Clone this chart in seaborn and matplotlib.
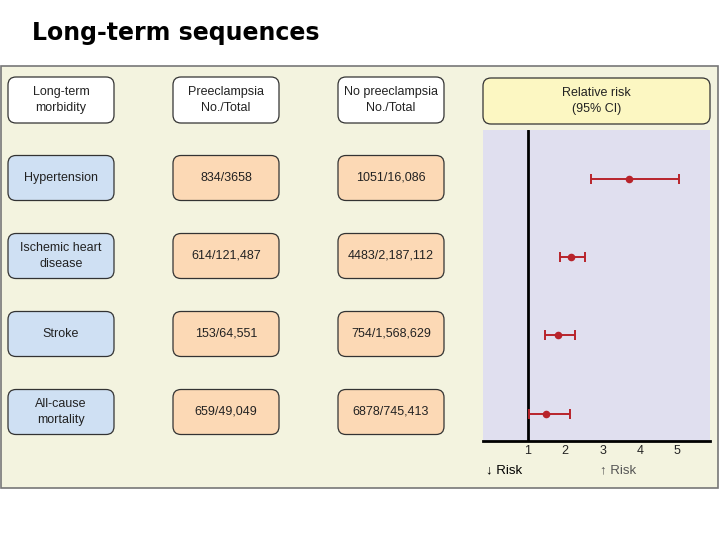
import numpy as np
import pandas as pd
import matplotlib
matplotlib.use("Agg")
import matplotlib.pyplot as plt
import seaborn as sns
from matplotlib.patches import FancyBboxPatch, Rectangle

# data
headers = ["Long-term\nmorbidity", "Preeclampsia\nNo./Total", "No preeclampsia\nNo./Total"]
outcomes = ["Hypertension", "Ischemic heart\ndisease", "Stroke", "All-cause\nmortality"]
preeclampsia = ["834/3658", "614/121,487", "153/64,551", "659/49,049"]
no_preeclampsia = ["1051/16,086", "4483/2,187,112", "754/1,568,629", "6878/745,413"]
rr = [3.70, 2.16, 1.81, 1.49]
ci_low = [2.70, 1.86, 1.45, 1.04]
ci_high = [5.05, 2.52, 2.27, 2.14]
x_ticks = [1, 2, 3, 4, 5]

df = pd.DataFrame({"outcome": outcomes, "row": range(len(outcomes)),
                   "rr": rr, "lo": ci_low, "hi": ci_high})

sns.set_style("white")
plt.rcParams["font.family"] = ["Liberation Sans", "DejaVu Sans"]

CREAM = "#f3f3df"
BLUE = "#cfe0f3"
ORANGE = "#fcd9b5"
YELLOW = "#fcf7c2"
LAVENDER = "#e0dfef"
RED = "#b8232b"

fig = plt.figure(figsize=(7.2, 5.4), dpi=100)

# background layer in pixel coordinates
bg = fig.add_axes([0, 0, 1, 1], zorder=0)
bg.set_xlim(0, 720)
bg.set_ylim(540, 0)
bg.axis("off")

bg.text(32, 40, "Long-term sequences", fontsize=17, fontweight="bold",
        va="baseline", ha="left", color="black", family=["DejaVu Sans"])
bg.add_patch(Rectangle((1, 66), 717, 422, facecolor=CREAM, edgecolor="#777777", lw=1.2))


def box(cx, cy, w, h, fc, text, r=8):
    p = FancyBboxPatch((cx - w / 2 + r, cy - h / 2 + r), w - 2 * r, h - 2 * r,
                       boxstyle=f"round,pad={r}", facecolor=fc,
                       edgecolor="#333333", lw=0.9)
    bg.add_patch(p)
    bg.text(cx, cy, text, ha="center", va="center", fontsize=9,
            color="#222222", linespacing=1.35)


col_x = [61, 226, 391]
col_w = 106
for cx, h in zip(col_x, headers):
    box(cx, 100, col_w, 46, "white", h)
box(596.5, 101, 227, 46, YELLOW, "Relative risk\n(95% CI)")

for i in range(len(outcomes)):
    cy = 178 + 78 * i
    box(col_x[0], cy, col_w, 45, BLUE, outcomes[i])
    box(col_x[1], cy, col_w, 45, ORANGE, preeclampsia[i])
    box(col_x[2], cy, col_w, 45, ORANGE, no_preeclampsia[i])

# forest plot
ax = fig.add_axes([483 / 720, (540 - 440.7) / 540, 227 / 720, (440.7 - 130) / 540], zorder=1)
ax.set_facecolor(LAVENDER)
ax.axvline(1, color="black", lw=2, zorder=1)
ax.errorbar(df["rr"], df["row"], xerr=[df["rr"] - df["lo"], df["hi"] - df["rr"]],
            fmt="none", ecolor=RED, elinewidth=1.4, capsize=3.8, capthick=1.4, zorder=2)
sns.scatterplot(data=df, x="rr", y="row", ax=ax, color=RED, s=30,
                edgecolor=RED, linewidth=0, zorder=3, legend=False)
ax.set_xlim(-0.195, 5.874)
ax.set_ylim(3.345, -0.627)
ax.set_yticks([])
ax.set_xticks(x_ticks)
ax.tick_params(axis="x", direction="in", length=3, width=0.7, color="#888888",
               labelsize=9, pad=3, labelcolor="#222222")
ax.set_xlabel("")
ax.set_ylabel("")
for s in ["top", "right", "left"]:
    ax.spines[s].set_visible(False)
ax.spines["bottom"].set_color("black")
ax.spines["bottom"].set_linewidth(2)

bg.text(486, 470, "\u2193 Risk", fontsize=9.5, ha="left", va="center", color="black",
        family=["Liberation Sans", "DejaVu Sans"])
bg.text(600, 470, "\u2191 Risk", fontsize=9.5, ha="left", va="center", color="#555555",
        family=["Liberation Sans", "DejaVu Sans"])

fig.savefig("out.png", dpi=100, facecolor="white")
